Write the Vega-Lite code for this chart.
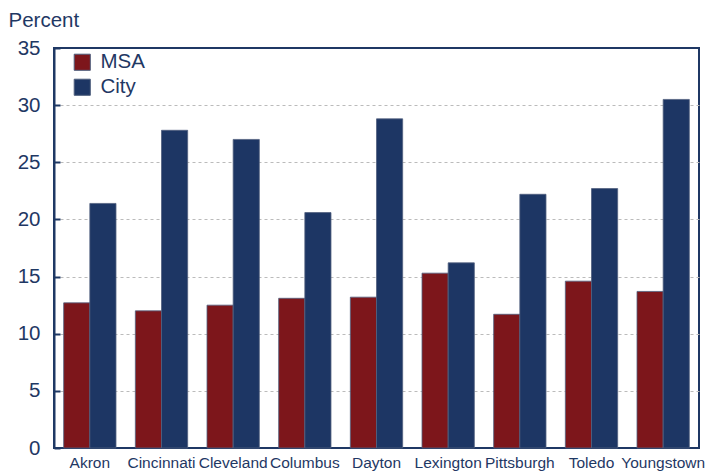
{
  "$schema": "https://vega.github.io/schema/vega-lite/v6.json",
  "width": 645,
  "height": 400,
  "autosize": {"type": "none"},
  "padding": {"left": 54, "top": 48, "right": 15, "bottom": 25},
  "background": "white",
  "config": {
    "font": "Liberation Sans",
    "view": {"stroke": "#1F3864", "strokeWidth": 2},
    "axis": {"labelColor": "#1F3864", "titleColor": "#1F3864", "domainColor": "#1F3864", "tickColor": "#1F3864"}
  },
  "data": {
    "values": [
      {"city": "Akron", "series": "MSA", "value": 12.7},
      {"city": "Akron", "series": "City", "value": 21.4},
      {"city": "Cincinnati", "series": "MSA", "value": 12.0},
      {"city": "Cincinnati", "series": "City", "value": 27.8},
      {"city": "Cleveland", "series": "MSA", "value": 12.5},
      {"city": "Cleveland", "series": "City", "value": 27.0},
      {"city": "Columbus", "series": "MSA", "value": 13.1},
      {"city": "Columbus", "series": "City", "value": 20.6},
      {"city": "Dayton", "series": "MSA", "value": 13.2},
      {"city": "Dayton", "series": "City", "value": 28.8},
      {"city": "Lexington", "series": "MSA", "value": 15.3},
      {"city": "Lexington", "series": "City", "value": 16.2},
      {"city": "Pittsburgh", "series": "MSA", "value": 11.7},
      {"city": "Pittsburgh", "series": "City", "value": 22.2},
      {"city": "Toledo", "series": "MSA", "value": 14.6},
      {"city": "Toledo", "series": "City", "value": 22.7},
      {"city": "Youngstown", "series": "MSA", "value": 13.7},
      {"city": "Youngstown", "series": "City", "value": 30.5}
    ]
  },
  "mark": {"type": "bar", "stroke": "#50607f", "strokeWidth": 0.8},
  "encoding": {
    "x": {
      "field": "city", "type": "nominal", "sort": null,
      "scale": {"paddingInner": 0.27, "paddingOuter": 0.135},
      "axis": {"title": null, "labelAngle": 0, "labelFontSize": 15.5, "labelPadding": 7, "ticks": false, "domain": false, "labelLimit": 200}
    },
    "xOffset": {"field": "series", "type": "nominal", "sort": ["MSA", "City"]},
    "y": {
      "field": "value", "type": "quantitative",
      "scale": {"domain": [0, 35], "nice": false},
      "axis": {
        "values": [0, 5, 10, 15, 20, 25, 30, 35],
        "title": "Percent", "titleAngle": 0, "titleAlign": "left", "titleBaseline": "alphabetic",
        "titleX": -46, "titleY": -22, "titleFontSize": 20.5, "titleFontWeight": "normal",
        "labelFontSize": 20.5, "labelPadding": 20, "tickSize": -6, "tickWidth": 2,
        "domainWidth": 2,
        "grid": true, "gridDash": [3, 3], "gridWidth": 1,
        "gridColor": {"condition": {"test": "datum.value === 35 || datum.value === 0", "value": "transparent"}, "value": "#bbbbbb"}
      }
    },
    "color": {
      "field": "series", "type": "nominal",
      "scale": {"domain": ["MSA", "City"], "range": ["#7D161B", "#1D3664"]},
      "legend": {
        "title": null, "orient": "none", "legendX": 18, "legendY": 4,
        "symbolType": "square", "symbolSize": 260, "symbolStrokeColor": "#50607f", "symbolStrokeWidth": 1,
        "labelFontSize": 20.5, "labelColor": "#1F3864", "rowPadding": 4, "labelOffset": 8
      }
    }
  }
}
